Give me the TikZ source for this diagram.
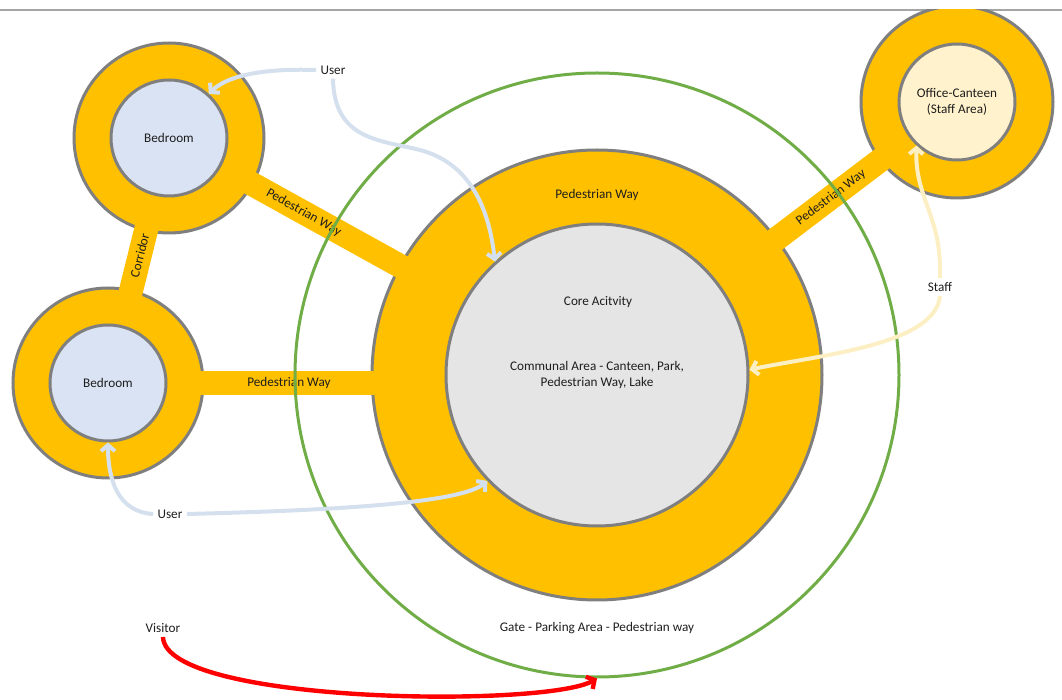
\documentclass[tikz,border=0pt]{standalone}
\usepackage{fontspec}
\setmainfont{Carlito}
\usetikzlibrary{arrows.meta, positioning}

\definecolor{wayorange}{HTML}{FFC000}
\definecolor{rimgray}{HTML}{7F7F7F}
\definecolor{bedblue}{HTML}{DAE3F3}
\definecolor{coregray}{HTML}{E5E5E5}
\definecolor{staffcream}{HTML}{FFF2CC}
\definecolor{gategreen}{HTML}{70AD47}
\definecolor{userblue}{HTML}{D5E0EE}
\definecolor{staffline}{HTML}{FDEFC4}
\definecolor{visitred}{HTML}{FF0000}
\definecolor{inkgray}{HTML}{1E1E1E}

\begin{document}
\begin{tikzpicture}[
  x=0.5pt, y=-0.5pt,
  font=\fontsize{6.6}{8}\selectfont, text=inkgray,
  ring/.style={circle, draw=rimgray, line width=1.5pt, fill=wayorange, inner sep=0pt},
  room/.style={circle, draw=rimgray, line width=1.5pt, inner sep=0pt, align=center, minimum size=58pt},
  band/.style={draw=wayorange, line width=12pt},
  gate/.style={circle, draw=gategreen, line width=1.5pt, inner sep=0pt, minimum size=302pt},
  tag/.style={inner sep=2pt, align=center},
  flow/.style={line width=2pt, -{Straight Barb[length=3pt,width=7pt]}}
]
\useasboundingbox (0,0) rectangle (1062,700);
\draw[rimgray!70, line width=0.8pt] (0,10) -- (1062,10);

\begin{scope}
\clip (0,10) rectangle (1062,700);
% outer rings
\node[ring, minimum size=95pt] (bedA) at (169,138) {};
\node[ring, minimum size=95pt] (bedB) at (108,383) {};
\node[ring, minimum size=96pt] (office) at (957,102) {};
\node[ring, minimum size=225pt] (way) at (597,375) {};

% pedestrian ways and corridor
\draw[band] (bedA.center) -- node[sloped, pos=0.315] {Pedestrian Way} (way.center);
\draw[band] (way.center) -- node[sloped, pos=0.65] {Pedestrian Way} (office.center);
\draw[band] (bedB.center) -- node[sloped, pos=0.52] {Corridor} (bedA.center);
\draw[band] (bedB.center) -- node[pos=0.37] {Pedestrian Way} (bedB.center -| way.center);

% inner rooms
\node[room, fill=bedblue] (bedAroom) at (bedA) {Bedroom};
\node[room, fill=bedblue] (bedBroom) at (bedB) {Bedroom};
\node[room, fill=staffcream] (officeroom) at (office) {Office-Canteen\\(Staff Area)};
\node[room, fill=coregray, minimum size=151pt] (core) at (way) {Communal Area - Canteen, Park,\\Pedestrian Way, Lake};

\node[gate] (gatering) at (way) {};
\end{scope}

% texts
\node[tag] at (597,195) {Pedestrian Way};
\node[tag] at (598,302) {Core Acitvity};
\node[tag] at (597,628) {Gate - Parking Area - Pedestrian way};
\node[tag] (userA) at (333,70) {User};
\node[tag] (userB) at (170,514) {User};
\node[tag] (staff) at (940,287) {Staff};
\node[tag] (visitor) at (163,628) {Visitor};

% movements
\draw[flow, userblue] (userA.west) .. controls (255,68) and (225,78) .. (bedAroom.48);
\draw[flow, userblue] (userA.south) .. controls (334,140) and (380,140) .. (420,150)
  .. controls (465,162) and (488,200) .. (core.132);
\draw[flow, userblue] (userB.west) .. controls (118,512) and (108,480) .. (bedBroom.south);
\draw[flow, userblue] (userB.east) .. controls (350,510) and (462,502) .. (core.224);
\draw[flow, staffline] (staff.north) .. controls (942,215) and (915,200) .. (officeroom.227);
\draw[flow, staffline] (staff.south) .. controls (935,345) and (820,355) .. (core.2);
\draw[flow, visitred, line width=2.2pt] (visitor.south) .. controls (165,704) and (545,708) .. (gatering.south);
\end{tikzpicture}
\end{document}
